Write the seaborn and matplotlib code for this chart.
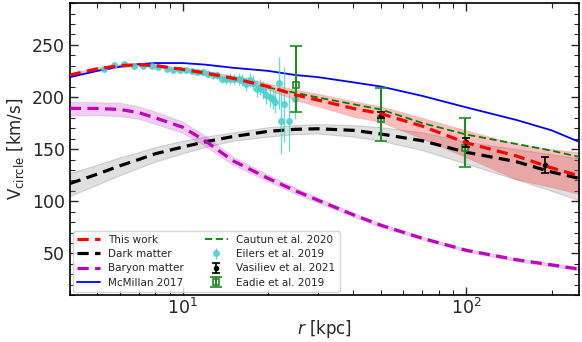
import numpy as np
import pandas as pd
import matplotlib
matplotlib.use("Agg")
import matplotlib.pyplot as plt
from matplotlib.ticker import MultipleLocator
import seaborn as sns

# Galactocentric radius grid of the model curves [kpc]
r_model = [4, 5, 6, 7, 8, 10, 12, 15, 20, 25, 30, 40, 50, 70, 100, 150, 200, 250]

# Total rotation curve (this work) with its uncertainty band
v_total = [221, 227, 230, 231, 230, 226.5, 223, 218, 210, 202, 197, 189, 184, 172, 156, 143.5, 132, 124.5]
v_total_lo = [219.5, 225.5, 228.5, 229.5, 228.5, 225, 221, 215.5, 207, 197, 191, 181, 176, 160, 142, 121, 113.5, 107]
v_total_hi = [222.5, 228.5, 231.5, 232.5, 231.5, 228, 225, 220.5, 213, 207, 203, 196, 191, 180, 168, 155, 150, 147]

# Dark matter contribution
v_dm = [117, 126, 134, 140, 145.5, 152, 157, 162, 167, 169, 169.5, 168, 164.5, 158, 147, 138, 128, 122]
v_dm_lo = [105, 116, 125, 132, 138, 146, 152, 158, 162, 164.5, 165, 162, 158, 149, 136, 121, 110, 101]
v_dm_hi = [127, 135, 142, 147, 152, 158, 162, 166, 171, 173, 174, 173, 171, 166, 157, 150, 145, 141]

# Baryonic contribution
v_bar = [189, 189, 188, 185, 180, 171, 158, 139, 122, 110, 101, 87, 77, 64.5, 53, 44, 39, 35]
v_bar_lo = [182, 182.5, 181.5, 179, 174, 165.5, 153, 135, 119, 107, 98.5, 85, 75, 63, 51.5, 42.5, 37.5, 33.5]
v_bar_hi = [195.5, 195, 194.5, 191, 186, 176.5, 163, 143, 125.5, 113, 103.5, 89, 79, 66, 54.5, 45.5, 40.5, 36.5]

# McMillan (2017) model
v_mcmillan = [219, 225, 229, 231.5, 232.5, 232.5, 231, 228, 225, 221, 219, 214, 210, 201, 190, 178, 168, 157]

# Cautun et al. (2020) model
r_cautun = [20, 25, 30, 40, 50, 70, 100, 150, 200, 250]
v_cautun = [209, 204, 199.5, 193, 188, 175, 164, 155, 148.5, 142.5]

# Eilers et al. (2019) rotation curve
r_eilers = [5.27, 5.74, 6.23, 6.73, 7.22, 7.82, 8.19, 8.78, 9.27, 9.76, 10.26, 10.75, 11.25,
            11.75, 12.25, 12.74, 13.23, 13.74, 14.24, 14.74, 15.22, 15.74, 16.24, 16.74,
            17.25, 17.75, 18.24, 18.74, 19.22, 19.71, 20.27, 20.78, 21.24, 21.80, 22.14,
            22.73, 23.66, 24.82]
v_eilers = [226.8, 230.8, 231.2, 229.9, 229.6, 229.9, 228.9, 226.5, 226.2, 225.9, 225.7, 224.7,
            224.0, 223.9, 222.2, 220.8, 220.9, 217.5, 217.3, 217.6, 217.1, 217.4, 216.1, 212.5,
            216.4, 213.7, 207.9, 209.6, 206.5, 201.9, 199.8, 198.1, 195.3, 213.7, 177.0, 193.1,
            176.6, 198.4]
e_eilers = [2, 2, 2, 2, 2, 2, 2, 2, 2, 2, 2.5, 2.5, 3, 3, 3.5, 3.5, 4, 4, 4.5, 5, 5, 5.5, 6,
            6.5, 7, 7, 8, 8, 8.5, 9, 9.5, 10, 11, 25, 32, 36, 28, 20]

# Vasiliev et al. (2021)
r_vasiliev = [50, 100, 190]
v_vasiliev = [182.5, 156.5, 134.5]
e_vasiliev = [2.7, 4.5, 7.5]

# Eadie et al. (2019)
r_eadie = [25, 50, 99]
v_eadie = [211.5, 179, 151.5]
e_eadie_lo = [25.5, 21, 18.5]
e_eadie_hi = [37.5, 30, 28]

sns.set_style("ticks")
plt.rcParams["font.family"] = ["DejaVu Sans"]
plt.rcParams["mathtext.fontset"] = "dejavusans"

fig = plt.figure(figsize=(5.82, 3.42), dpi=100)
ax = fig.add_axes([0.120, 0.137, 0.875, 0.854])

models = pd.DataFrame({"r": r_model, "total": v_total, "dm": v_dm, "bar": v_bar,
                       "mcm": v_mcmillan})
cautun = pd.DataFrame({"r": r_cautun, "v": v_cautun})

# Uncertainty bands
ax.fill_between(r_model, v_dm_lo, v_dm_hi, color="0.6", alpha=0.3,
                edgecolor="0.5", linewidth=0.8, zorder=1)
ax.fill_between(r_model, v_bar_lo, v_bar_hi, color="m", alpha=0.2,
                edgecolor="0.55", linewidth=0.8, zorder=1)
ax.fill_between(r_model, v_total_lo, v_total_hi, color="red", alpha=0.25,
                edgecolor="indianred", linewidth=0.6, zorder=1)

# Model curves
sns.lineplot(data=models, x="r", y="mcm", color="blue", lw=1.3, ax=ax,
             label="McMillan 2017", zorder=3)
sns.lineplot(data=cautun, x="r", y="v", color="green", lw=1.3, ax=ax,
             label="Cautun et al. 2020", zorder=3, linestyle=(0, (4, 2)))
sns.lineplot(data=models, x="r", y="dm", color="black", lw=2.3, ax=ax,
             label="Dark matter", zorder=4, linestyle=(0, (3.5, 2)))
sns.lineplot(data=models, x="r", y="bar", color="m", lw=2.3, ax=ax,
             label="Baryon matter", zorder=4, linestyle=(0, (3.5, 2)))

# Observational data
ax.errorbar(r_eilers, v_eilers, yerr=e_eilers, fmt="o", color="mediumturquoise",
            ms=4, elinewidth=1.0, alpha=0.8, zorder=5, label="Eilers et al. 2019")
ax.errorbar(r_vasiliev, v_vasiliev, yerr=e_vasiliev, fmt="o", color="black",
            ms=3, elinewidth=1.2, capsize=3, capthick=1.2, zorder=7,
            label="Vasiliev et al. 2021")
ax.errorbar(r_eadie, v_eadie, yerr=[e_eadie_lo, e_eadie_hi], fmt="s",
            color="forestgreen", mfc="none", mew=1.2, ms=5, elinewidth=1.5,
            capsize=4, capthick=1.5, zorder=6, label="Eadie et al. 2019")

sns.lineplot(data=models, x="r", y="total", color="red", lw=2.3, ax=ax,
             label="This work", zorder=8, linestyle=(0, (3.5, 2)))

ax.set_xscale("log")
ax.set_xlim(4, 250)
ax.set_ylim(10, 290)
ax.yaxis.set_major_locator(MultipleLocator(50))
ax.yaxis.set_minor_locator(MultipleLocator(10))
ax.tick_params(which="both", direction="in", top=True, right=True, labelsize=12.5)
ax.tick_params(axis="x", which="both", pad=2)
ax.tick_params(which="major", length=6, width=1)
ax.tick_params(which="minor", length=3.5, width=0.8)
for s in ax.spines.values():
    s.set_linewidth(1.2)
    s.set_color("black")

ax.set_xlabel(r"$r$ [kpc]", fontsize=12, labelpad=0)
ax.set_ylabel(r"V$_{\rm circle}$ [km/s]", fontsize=12, labelpad=4)

h, l = ax.get_legend_handles_labels()
order = ["This work", "Dark matter", "Baryon matter", "McMillan 2017",
         "Cautun et al. 2020", "Eilers et al. 2019", "Vasiliev et al. 2021",
         "Eadie et al. 2019"]
hd = dict(zip(l, h))
ax.legend([hd[k] for k in order], order, ncol=2, loc="lower left", fontsize=7.5,
          frameon=True, framealpha=0.8, edgecolor="0.8", borderaxespad=0.3,
          columnspacing=2.0, handlelength=2.2, labelspacing=0.42)

fig.savefig("out.png", dpi=100)
